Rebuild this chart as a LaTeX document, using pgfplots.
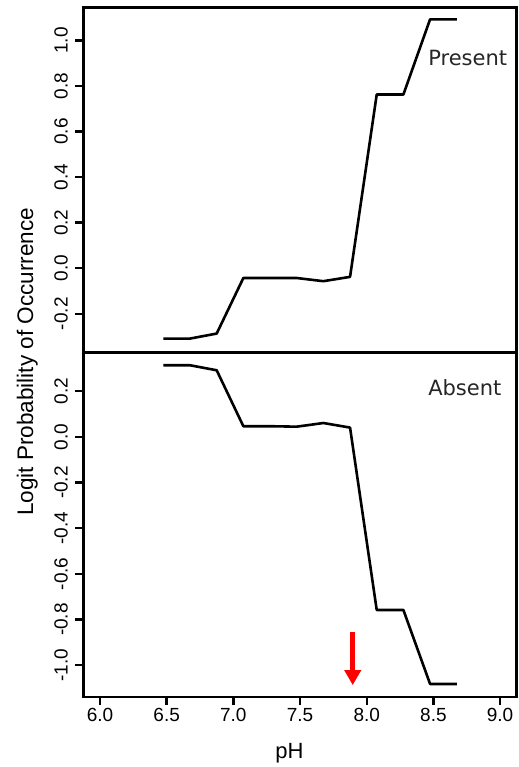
\documentclass[border=0pt]{standalone}
\usepackage{pgfplots}
\pgfplotsset{compat=1.18}
\usepackage{fontspec}
\setmainfont{Liberation Sans}
\newfontfamily\verd{DejaVu Sans}
\usetikzlibrary{arrows.meta}

\pgfplotstableread{
x y
6.475 -0.309
6.675 -0.309
6.875 -0.287
7.075 -0.043
7.275 -0.043
7.475 -0.043
7.675 -0.057
7.875 -0.038
8.075 0.763
8.275 0.763
8.475 1.093
8.675 1.093
}\present

\pgfplotstableread{
x y
6.475 0.314
6.675 0.314
6.875 0.292
7.075 0.047
7.275 0.047
7.475 0.045
7.675 0.061
7.875 0.041
8.075 -0.758
8.275 -0.758
8.475 -1.082
8.675 -1.082
}\absent

\begin{document}
\begin{tikzpicture}
\useasboundingbox (-83.3pt,-70pt) rectangle (434.7pt,696.9pt);
\pgfplotsset{
  every axis/.append style={
    scale only axis, width=433.4pt, height=344.7pt,
    xmin=5.875, xmax=9.125,
    clip=false,
    axis line style={line width=2.6pt},
    tick style={line width=2.4pt, black},
    major tick length=8pt,
    tick align=outside,
    ytick pos=left,
    yticklabel shift=4pt,
    /pgf/number format/assume math mode=true,
    tick label style={font=\fontsize{19}{21}\selectfont},
    yticklabel style={rotate=90, anchor=south,
      /pgf/number format/fixed, /pgf/number format/fixed zerofill,
      /pgf/number format/precision=1},
    xticklabel style={/pgf/number format/fixed, /pgf/number format/fixed zerofill,
      /pgf/number format/precision=1},
  }
}
% bottom panel
\begin{axis}[name=bot, at={(0pt,0pt)}, anchor=south west,
  ymin=-1.139, ymax=0.371,
  ytick={-1.0,-0.8,-0.6,-0.4,-0.2,0.0,0.2},
  xtick={6.0,6.5,7.0,7.5,8.0,8.5,9.0},
  xtick pos=bottom]
\addplot[black, line width=2.6pt, line join=round] table[x=x,y=y] {\absent};
\addplot[red, line width=4.5pt, -{Triangle[length=15pt,width=16pt]}] coordinates {(7.895,-0.853) (7.895,-1.087)};
\node[anchor=base west, inner sep=0pt, font=\verd\fontsize{21}{24}\selectfont, text=black!85] at (axis cs:8.46,0.182) {Absent};
\node[anchor=base, inner sep=0pt, font=\fontsize{22}{24}\selectfont] at ([yshift=-61pt]axis cs:7.42,-1.139) {pH};
\end{axis}
% top panel
\begin{axis}[name=top, at={(0pt,344.7pt)}, anchor=south west,
  ymin=-0.369, ymax=1.145,
  ytick={-0.2,0.0,0.2,0.4,0.6,0.8,1.0},
  xtick=\empty]
\addplot[black, line width=2.6pt, line join=round] table[x=x,y=y] {\present};
\node[anchor=base west, inner sep=0pt, font=\verd\fontsize{21}{24}\selectfont, text=black!85] at (axis cs:8.46,0.892) {Present};
\end{axis}
\node[rotate=90, anchor=base, inner sep=0pt, font=\fontsize{22.5}{24}\selectfont] at (-50.3pt,335pt) {Logit Probability of Occurrence};
\end{tikzpicture}
\end{document}
